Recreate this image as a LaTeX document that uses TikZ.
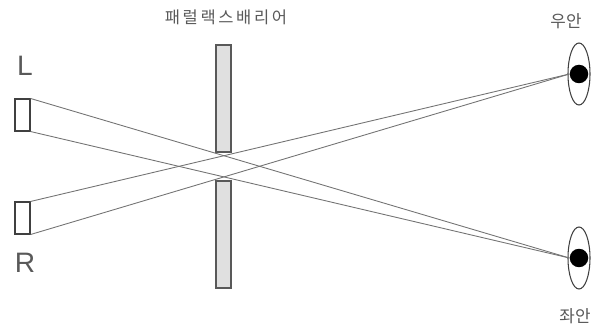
\documentclass[tikz,border=0pt]{standalone}
\usepackage{fontspec}
\setmainfont{Liberation Sans}
\newfontfamily\krfont{Noto Sans CJK KR}
\newfontfamily\krwidefont[LetterSpace=16]{Noto Sans CJK KR}
\usetikzlibrary{shapes.geometric, positioning}

\begin{document}
\begin{tikzpicture}[
        x=0.02cm, y=-0.02cm,
        panel/.style={draw=black!75, line width=0.6pt, minimum width=0.30cm, minimum height=0.64cm, inner sep=0pt},
        barrier/.style={draw=black!65, line width=0.9pt, fill=black!12, minimum width=0.29cm, minimum height=2.15cm, inner sep=0pt},
        eye/.style={draw=black!75, line width=0.6pt, ellipse, minimum width=0.44cm, minimum height=1.24cm, inner sep=0pt},
        pupil/.style={circle, fill=black, minimum size=0.37cm, inner sep=0pt},
        ray/.style={draw=black!55, line width=0.5pt},
        krlabel/.style={font=\krfont\fontsize{9.6pt}{11pt}\selectfont, text=black!65, inner sep=0pt},
        titlelabel/.style={font=\krwidefont\fontsize{9.4pt}{11pt}\selectfont, text=black!65, inner sep=0pt},
        letter/.style={font=\fontsize{16pt}{18pt}\selectfont, text=black!65, inner sep=0pt}
    ]
        \useasboundingbox (0,0) rectangle (599,324);

        \node[panel] (lpanel) at (22.5,115) {};
        \node[panel] (rpanel) at (22.5,218) {};
        \node[letter] (ltext) at (25,66) {L};
        \node[letter] (rtext) at (25,263) {R};

        \node[barrier] (topbar) at (223.5,98.5) {};
        \node[barrier] (botbar) at (223.5,234.5) {};
        \node[titlelabel] (title) at (226,17) {패럴랙스배리어};

        \node[eye] (righteye) at (579,74) {};
        \node[eye] (lefteye) at (579,258) {};
        \node[pupil] (rightpupil) at (579,74) {};
        \node[pupil] (leftpupil) at (579,258) {};
        \node[krlabel] (righttext) at (566,21) {우안};
        \node[krlabel] (lefttext) at (575,316) {좌안};

        \draw[ray] (lpanel.north east) -- (leftpupil.west);
        \draw[ray] (lpanel.south east) -- (leftpupil.west);
        \draw[ray] (rpanel.north east) -- (rightpupil.west);
        \draw[ray] (rpanel.south east) -- (rightpupil.west);
    \end{tikzpicture}
\end{document}
